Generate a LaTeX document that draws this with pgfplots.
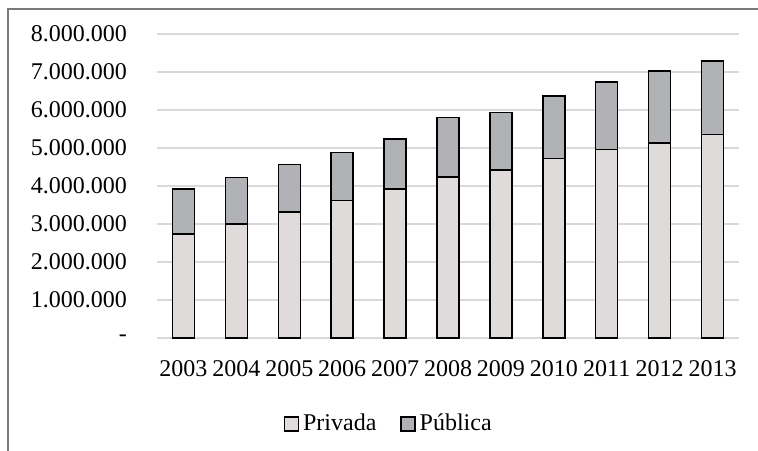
\documentclass[border=0pt]{standalone}
\usepackage{fontspec}
\setmainfont{Liberation Serif}
\usepackage{pgfplots}
\usepackage{pgfplotstable}
\pgfplotsset{compat=1.18}

\definecolor{priv}{HTML}{DFDBDA}
\definecolor{pub}{HTML}{B1B2B5}
\definecolor{gridc}{HTML}{D9D9D9}
\definecolor{framec}{HTML}{7A7A7A}

% matriculas por ano: privada, publica
\pgfplotstableread{
x year privada publica
0  2003 2740000 1180000
1  2004 3000000 1220000
2  2005 3320000 1250000
3  2006 3620000 1260000
4  2007 3920000 1320000
5  2008 4240000 1560000
6  2009 4420000 1520000
7  2010 4730000 1640000
8  2011 4960000 1780000
9  2012 5130000 1900000
10 2013 5360000 1930000
}\datatable

\begin{document}
\begin{tikzpicture}
\useasboundingbox (-78.5pt,-56pt) rectangle (300.5pt,169pt);
\draw[framec, line width=0.8pt] (-74.5pt,-60pt) -- (-74.5pt,164.5pt) -- (305pt,164.5pt);
\begin{axis}[
  at={(0,0)}, anchor=south west,
  scale only axis,
  width=291pt, height=152pt,
  ybar stacked, bar width=11pt,
  xmin=-0.5, xmax=10.5,
  ymin=0, ymax=8000000,
  xtick={0,1,2,3,4,5,6,7,8,9,10},
  xticklabels={2003,2004,2005,2006,2007,2008,2009,2010,2011,2012,2013},
  ytick={0,1000000,2000000,3000000,4000000,5000000,6000000,7000000,8000000},
  yticklabels={-,1.000.000,2.000.000,3.000.000,4.000.000,5.000.000,6.000.000,7.000.000,8.000.000},
  scaled y ticks=false,
  ymajorgrids,
  grid style={gridc, line width=0.8pt},
  axis line style={draw=none},
  major tick length=0pt,
  tick label style={font=\fontsize{12}{14}\selectfont},
  yticklabel style={xshift=-11.5pt},
  xticklabel style={yshift=-7.5pt},
  legend style={at={(0.40,-0.283)}, anchor=center, draw=none,
    font=\fontsize{12}{14}\selectfont, legend columns=-1,
    /tikz/every even column/.append style={column sep=10pt}},
]
\addplot[fill=priv, draw=black, line width=0.7pt,
  legend image code/.code={\draw[fill=priv, draw=black, line width=0.6pt] (0pt,-3.5pt) rectangle (7pt,3.5pt);}]
  table[x=x, y=privada] {\datatable};
\addlegendentry{Privada}
\addplot[fill=pub, draw=black, line width=0.7pt,
  legend image code/.code={\draw[fill=pub, draw=black, line width=0.6pt] (0pt,-3.5pt) rectangle (7pt,3.5pt);}]
  table[x=x, y=publica] {\datatable};
\addlegendentry{Pública}
\end{axis}
\end{tikzpicture}
\end{document}
